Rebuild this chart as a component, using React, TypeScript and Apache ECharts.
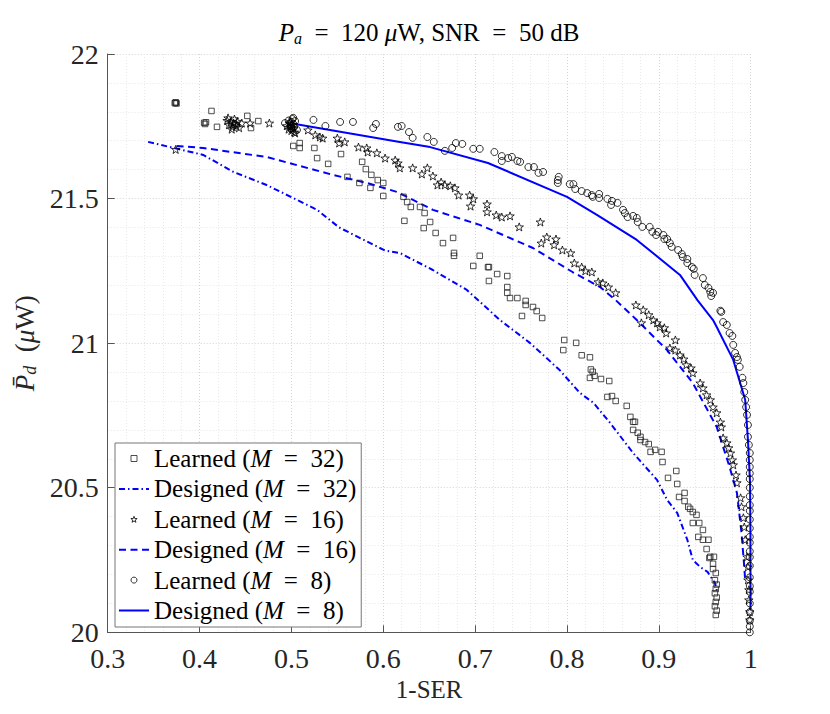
import React, { useEffect, useRef } from "react";
import * as echarts from "echarts";

const FONT = "Liberation Serif";
const EN = "\u2002";

// Axis ticks
const X_MIN = 0.3;
const X_MAX = 1;
const X_STEP = 0.1;
const Y_MIN = 20;
const Y_MAX = 22;
const Y_STEP = 0.5;

const NAMES = [
  "Learned (M = 32)",
  "Designed (M = 32)",
  "Learned (M = 16)",
  "Designed (M = 16)",
  "Learned (M = 8)",
  "Designed (M = 8)",
];

// Designed curves
const designed8 = [
  [0.504, 21.758], [0.618, 21.696], [0.651, 21.678], [0.714, 21.623], [0.8, 21.506],
  [0.833, 21.443], [0.876, 21.357], [0.923, 21.236], [0.942, 21.149], [0.959, 21.08],
  [0.963, 21.056], [0.981, 20.942], [0.994, 20.804], [0.997, 20.665], [0.9993, 20.517],
  [0.9997, 20.344], [0.9998, 20.077],
];

const designed16 = [
  [0.375, 21.682], [0.404, 21.675], [0.473, 21.644], [0.545, 21.582], [0.582, 21.554],
  [0.615, 21.523], [0.654, 21.461], [0.705, 21.409], [0.763, 21.329], [0.806, 21.246],
  [0.836, 21.194], [0.853, 21.149], [0.876, 21.08], [0.909, 20.976], [0.937, 20.862],
  [0.963, 20.71], [0.977, 20.572], [0.985, 20.482], [0.99, 20.344], [0.993, 20.226],
  [0.994, 20.18],
];

const designed32 = [
  [0.344, 21.696], [0.404, 21.651], [0.437, 21.592], [0.473, 21.547], [0.528, 21.461],
  [0.552, 21.4], [0.602, 21.32], [0.618, 21.312], [0.654, 21.253], [0.691, 21.184],
  [0.727, 21.08], [0.76, 21.0], [0.792, 20.907], [0.814, 20.828], [0.829, 20.793],
  [0.847, 20.724], [0.872, 20.62], [0.898, 20.527], [0.909, 20.458], [0.92, 20.413],
  [0.931, 20.32], [0.937, 20.25], [0.945, 20.226], [0.953, 20.209], [0.961, 20.171],
  [0.964, 20.136],
];

// Learned points
const learned8 = [
  [0.493, 21.761], [0.497, 21.77], [0.499, 21.752], [0.5, 21.765], [0.501, 21.775],
  [0.502, 21.758], [0.502, 21.779], [0.503, 21.748], [0.504, 21.768], [0.506, 21.737],
  [0.5, 21.744], [0.524, 21.772], [0.537, 21.751], [0.553, 21.765], [0.567, 21.765],
  [0.589, 21.744], [0.592, 21.758], [0.616, 21.748], [0.62, 21.751], [0.628, 21.73],
  [0.632, 21.71], [0.648, 21.713], [0.655, 21.696], [0.667, 21.665], [0.675, 21.675],
  [0.679, 21.692], [0.686, 21.689], [0.698, 21.672], [0.705, 21.672], [0.721, 21.661],
  [0.729, 21.647], [0.729, 21.63], [0.736, 21.64], [0.74, 21.644], [0.746, 21.63],
  [0.749, 21.627], [0.758, 21.609], [0.764, 21.609], [0.769, 21.589], [0.774, 21.592],
  [0.791, 21.575], [0.79, 21.564], [0.79, 21.554], [0.803, 21.55], [0.807, 21.55],
  [0.809, 21.533], [0.816, 21.526], [0.822, 21.519], [0.827, 21.512], [0.828, 21.506],
  [0.835, 21.516], [0.835, 21.502], [0.844, 21.499], [0.849, 21.492], [0.848, 21.478],
  [0.855, 21.485], [0.861, 21.461], [0.863, 21.45], [0.866, 21.436], [0.872, 21.44],
  [0.876, 21.433], [0.877, 21.419], [0.882, 21.402], [0.89, 21.402], [0.893, 21.385],
  [0.897, 21.374], [0.899, 21.385], [0.905, 21.374], [0.906, 21.36], [0.909, 21.36],
  [0.912, 21.346], [0.914, 21.333], [0.921, 21.322], [0.925, 21.308], [0.926, 21.298],
  [0.931, 21.291], [0.931, 21.277], [0.936, 21.263], [0.938, 21.257], [0.939, 21.236],
  [0.948, 21.225], [0.95, 21.201], [0.954, 21.191], [0.956, 21.177], [0.959, 21.174],
  [0.957, 21.163], [0.968, 21.108], [0.967, 21.112], [0.97, 21.073], [0.974, 21.063],
  [0.977, 21.035], [0.98, 21.025], [0.981, 20.994], [0.983, 20.966], [0.985, 20.952],
  [0.986, 20.942], [0.988, 20.918], [0.991, 20.88], [0.992, 20.862], [0.993, 20.831],
  [0.994, 20.804], [0.995, 20.779], [0.996, 20.752], [0.997, 20.717], [0.997, 20.676],
  [0.998, 20.648], [0.999, 20.62], [0.999, 20.596], [0.999, 20.572], [0.999, 20.55],
  [0.999, 20.53], [0.999, 20.5], [0.999, 20.47], [0.999, 20.44], [0.999, 20.42],
  [0.999, 20.39], [0.999, 20.36], [0.999, 20.33], [0.999, 20.31], [0.999, 20.28],
  [0.999, 20.26], [0.999, 20.23], [0.999, 20.19], [0.999, 20.16], [0.999, 20.14],
  [0.999, 20.1], [0.999, 20.07], [0.999, 20.04], [0.999, 20.02], [0.999, 20.0],
];

const learned16 = [
  [0.374, 21.67],
  [0.43, 21.77], [0.432, 21.755], [0.434, 21.765], [0.436, 21.748], [0.437, 21.761],
  [0.438, 21.775], [0.44, 21.752], [0.441, 21.767], [0.443, 21.745], [0.435, 21.74],
  [0.439, 21.758], [0.431, 21.779], [0.446, 21.761], [0.455, 21.761], [0.476, 21.761],
  [0.495, 21.752], [0.497, 21.74], [0.498, 21.76], [0.499, 21.748], [0.5, 21.735],
  [0.501, 21.755], [0.502, 21.742], [0.503, 21.73], [0.499, 21.765], [0.504, 21.727],
  [0.518, 21.737], [0.526, 21.72], [0.531, 21.713], [0.534, 21.709], [0.55, 21.709],
  [0.552, 21.692], [0.558, 21.696], [0.573, 21.678], [0.582, 21.675], [0.583, 21.661],
  [0.593, 21.658], [0.602, 21.64], [0.613, 21.633], [0.616, 21.623], [0.618, 21.606],
  [0.632, 21.606], [0.642, 21.585], [0.648, 21.606], [0.654, 21.578], [0.659, 21.547],
  [0.663, 21.557], [0.667, 21.547], [0.673, 21.544], [0.678, 21.537], [0.682, 21.512],
  [0.694, 21.512], [0.698, 21.499], [0.695, 21.474], [0.713, 21.481], [0.713, 21.454],
  [0.723, 21.443], [0.729, 21.436], [0.738, 21.44], [0.748, 21.402], [0.771, 21.419],
  [0.778, 21.367], [0.788, 21.36], [0.772, 21.346], [0.786, 21.34], [0.795, 21.322],
  [0.804, 21.312], [0.808, 21.277], [0.816, 21.263], [0.82, 21.25], [0.827, 21.246],
  [0.834, 21.212], [0.839, 21.208], [0.845, 21.194], [0.853, 21.174], [0.875, 21.132],
  [0.883, 21.115], [0.881, 21.07], [0.889, 21.098], [0.894, 21.08], [0.898, 21.07],
  [0.901, 21.056], [0.906, 21.053], [0.908, 21.035], [0.918, 21.011], [0.912, 20.983],
  [0.918, 20.976], [0.923, 20.959], [0.927, 20.945], [0.93, 20.925], [0.935, 20.914],
  [0.937, 20.897], [0.945, 20.862], [0.948, 20.845], [0.952, 20.821], [0.956, 20.804],
  [0.959, 20.779], [0.963, 20.759], [0.967, 20.727], [0.968, 20.71], [0.97, 20.672],
  [0.974, 20.655], [0.976, 20.638], [0.978, 20.62], [0.98, 20.596], [0.981, 20.579],
  [0.984, 20.544], [0.985, 20.517], [0.989, 20.465], [0.99, 20.434], [0.992, 20.396],
  [0.993, 20.364], [0.994, 20.32], [0.996, 20.261], [0.997, 20.226], [0.997, 20.181],
  [0.998, 20.147], [0.998, 20.112], [0.999, 20.071], [0.999, 20.043],
];

const learned32 = [
  [0.373, 21.83], [0.374, 21.833], [0.375, 21.829], [0.374, 21.831],
  [0.413, 21.803], [0.405, 21.762], [0.406, 21.758], [0.407, 21.764], [0.419, 21.748],
  [0.452, 21.786], [0.456, 21.744], [0.464, 21.768], [0.502, 21.682], [0.509, 21.692],
  [0.509, 21.675], [0.525, 21.675], [0.528, 21.64], [0.54, 21.62], [0.554, 21.654],
  [0.561, 21.575], [0.577, 21.627], [0.581, 21.602], [0.587, 21.582], [0.574, 21.554],
  [0.586, 21.537], [0.594, 21.564], [0.6, 21.554], [0.6, 21.509], [0.622, 21.506],
  [0.626, 21.488], [0.63, 21.471], [0.623, 21.423], [0.64, 21.471], [0.645, 21.45],
  [0.644, 21.398], [0.651, 21.419], [0.657, 21.381], [0.665, 21.346], [0.676, 21.364],
  [0.677, 21.312], [0.677, 21.302], [0.698, 21.267], [0.705, 21.302], [0.714, 21.263],
  [0.715, 21.263], [0.724, 21.239], [0.735, 21.232], [0.715, 21.215], [0.735, 21.194],
  [0.735, 21.174], [0.738, 21.156], [0.746, 21.156], [0.755, 21.146], [0.755, 21.132],
  [0.751, 21.094], [0.763, 21.125], [0.767, 21.111], [0.773, 21.087], [0.797, 21.011],
  [0.796, 20.976], [0.81, 21.001], [0.816, 20.958], [0.825, 20.951], [0.826, 20.909],
  [0.828, 20.901], [0.825, 20.88], [0.83, 20.887], [0.837, 20.876], [0.846, 20.869],
  [0.844, 20.814], [0.849, 20.817], [0.853, 20.8], [0.865, 20.783], [0.869, 20.745],
  [0.872, 20.728], [0.874, 20.728], [0.872, 20.7], [0.877, 20.69], [0.88, 20.676],
  [0.88, 20.665], [0.885, 20.658], [0.889, 20.651], [0.891, 20.624], [0.896, 20.631],
  [0.903, 20.624], [0.904, 20.589], [0.919, 20.558], [0.91, 20.534], [0.92, 20.513],
  [0.922, 20.468], [0.928, 20.482], [0.928, 20.454], [0.932, 20.434], [0.934, 20.427],
  [0.937, 20.416], [0.941, 20.406], [0.937, 20.378], [0.944, 20.378], [0.948, 20.354],
  [0.943, 20.33], [0.948, 20.32], [0.954, 20.32], [0.952, 20.288], [0.956, 20.261],
  [0.96, 20.261], [0.955, 20.257], [0.959, 20.237], [0.959, 20.219], [0.962, 20.205],
  [0.961, 20.18], [0.963, 20.165], [0.962, 20.15], [0.961, 20.135], [0.963, 20.12],
  [0.962, 20.105], [0.961, 20.09], [0.963, 20.075], [0.962, 20.06],
];

const STAR =
  "path://M0,-10L2.35,-3.24L9.51,-3.09L3.8,1.24L5.88,8.09L0,4L-5.88,8.09L-3.8,1.24L-9.51,-3.09L-2.35,-3.24Z";
const SQUARE = "path://M0,0L10,0L10,10L0,10Z";

const BLUE = "#0000ff";
const HOLLOW = "rgba(0,0,0,0)";

const sqStyle = { color: HOLLOW, borderColor: "#222", borderWidth: 1 };
const starStyle = { color: HOLLOW, borderColor: "#000", borderWidth: 1 };
const circStyle = { color: HOLLOW, borderColor: "#000", borderWidth: 1 };
const noSymbol = { color: HOLLOW, borderColor: HOLLOW, borderWidth: 0, opacity: 0 };

function legendLabel(name: string) {
  return name.replace("M = ", "{i|M}" + EN + "=" + EN);
}

function buildOption() {
  const axisCommon = {
    axisLine: { show: true, lineStyle: { color: "#555", width: 1 } },
    axisTick: { show: true, inside: true, length: 7, lineStyle: { color: "#555" } },
    splitLine: { show: true, lineStyle: { color: "#d4d4d4", type: [1, 2], width: 1 } },
    minorTick: { show: false, splitNumber: 5 },
    minorSplitLine: { show: true, lineStyle: { color: "#e8e8e8", type: [1, 2], width: 1 } },
    axisLabel: { fontFamily: FONT, fontSize: 28, color: "#262626" },
  };
  return {
    animation: false,
    backgroundColor: "#fff",
    textStyle: { fontFamily: FONT },
    grid: { left: 107.7, top: 54, right: 79.3, bottom: 81.7, containLabel: false },
    xAxis: {
      type: "value",
      min: X_MIN,
      max: X_MAX,
      interval: X_STEP,
      ...axisCommon,
      axisLabel: { ...axisCommon.axisLabel, margin: 12 },
      name: "1-SER",
      nameLocation: "middle",
      nameGap: 45,
      nameTextStyle: { fontFamily: FONT, fontSize: 25, color: "#262626" },
    },
    yAxis: {
      type: "value",
      min: Y_MIN,
      max: Y_MAX,
      interval: Y_STEP,
      ...axisCommon,
      axisLabel: { ...axisCommon.axisLabel, margin: 9 },
      name: "{i|P\u0304}{s|d}{n|" + EN + "(}{i|μ}{n|W)}",
      nameLocation: "middle",
      nameRotate: 90,
      nameGap: 54,
      nameTextStyle: {
        fontFamily: FONT,
        fontSize: 27,
        color: "#262626",
        rich: {
          i: { fontFamily: FONT, fontSize: 27, fontStyle: "italic", color: "#262626", lineHeight: 28 },
          n: { fontFamily: FONT, fontSize: 27, color: "#262626", lineHeight: 28 },
          s: { fontFamily: FONT, fontSize: 18, fontStyle: "italic", color: "#262626", lineHeight: 15, verticalAlign: "bottom" },
        },
      },
    },
    legend: {
      orient: "vertical",
      left: 115,
      top: 443,
      padding: [3, 5, 4, 3],
      itemGap: 5.4,
      itemWidth: 30,
      itemHeight: 6,
      backgroundColor: "#fff",
      borderColor: "#777",
      borderWidth: 1,
      borderRadius: 0,
      selectedMode: false,
      data: [
        { name: NAMES[0], icon: SQUARE, itemStyle: sqStyle },
        { name: NAMES[1], itemStyle: noSymbol },
        { name: NAMES[2], icon: STAR, itemStyle: starStyle },
        { name: NAMES[3], itemStyle: noSymbol },
        { name: NAMES[4], icon: "circle", itemStyle: circStyle },
        { name: NAMES[5], itemStyle: noSymbol },
      ],
      formatter: legendLabel,
      textStyle: {
        fontFamily: FONT,
        fontSize: 25,
        color: "#000",
        lineHeight: 24,
        rich: {
          i: { fontFamily: FONT, fontSize: 25, fontStyle: "italic", color: "#000", lineHeight: 24 },
        },
      },
    },
    graphic: [
      {
        type: "text",
        silent: true,
        style: {
          x: 429,
          y: 32,
          align: "center",
          verticalAlign: "middle",
          text:
            "{i|P}{s|a}{n|" + EN + "=" + EN + "120 }{i|μ}{n|W, SNR" + EN + "=" + EN + "50 dB}",
          rich: {
            i: { fontFamily: FONT, fontSize: 25, fontStyle: "italic", fill: "#000", lineHeight: 28 },
            n: { fontFamily: FONT, fontSize: 25, fill: "#000", lineHeight: 28 },
            s: { fontFamily: FONT, fontSize: 16, fontStyle: "italic", fill: "#000", lineHeight: 15, verticalAlign: "bottom" },
          },
        },
      },
    ],
    series: [
      {
        name: NAMES[0],
        type: "scatter",
        data: learned32,
        symbol: "rect",
        symbolSize: 5.5,
        itemStyle: sqStyle,
        silent: true,
        z: 3,
      },
      {
        name: NAMES[1],
        type: "line",
        data: designed32,
        symbol: "none",
        showSymbol: false,
        lineStyle: { color: BLUE, width: 2, type: [6, 3, 1.5, 3] },
        itemStyle: { color: BLUE },
        silent: true,
        z: 2,
      },
      {
        name: NAMES[2],
        type: "scatter",
        data: learned16,
        symbol: STAR,
        symbolSize: 8.5,
        symbolKeepAspect: true,
        itemStyle: starStyle,
        silent: true,
        z: 3,
      },
      {
        name: NAMES[3],
        type: "line",
        data: designed16,
        symbol: "none",
        showSymbol: false,
        lineStyle: { color: BLUE, width: 2, type: [7, 4.5] },
        itemStyle: { color: BLUE },
        silent: true,
        z: 2,
      },
      {
        name: NAMES[4],
        type: "scatter",
        data: learned8,
        symbol: "circle",
        symbolSize: 7,
        itemStyle: circStyle,
        silent: true,
        z: 3,
      },
      {
        name: NAMES[5],
        type: "line",
        data: designed8,
        symbol: "none",
        showSymbol: false,
        lineStyle: { color: BLUE, width: 2, type: "solid" },
        itemStyle: { color: BLUE },
        silent: true,
        z: 2,
      },
    ],
  };
}

export default function App() {
  const ref = useRef<HTMLDivElement>(null);
  useEffect(() => {
    document.body.style.margin = "0";
    const chart = echarts.init(ref.current as HTMLDivElement, null, { renderer: "svg" });
    chart.setOption(buildOption() as any);
    return () => chart.dispose();
  }, []);
  return <div ref={ref} style={{ width: 830, height: 714 }} />;
}
